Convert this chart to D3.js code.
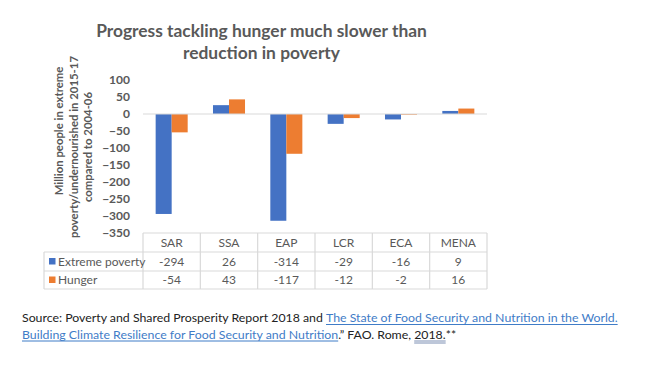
<!DOCTYPE html>
<html><head><meta charset="utf-8">
<script src="https://cdn.jsdelivr.net/npm/d3@7"></script>
<style>body{margin:0;background:#fff}svg{display:block}text{white-space:pre}</style>
</head><body><svg id="c" width="650" height="368"></svg>
<script>
const categories = ["SAR", "SSA", "EAP", "LCR", "ECA", "MENA"];
const seriesNames = ["Extreme poverty", "Hunger"];
const extremePoverty = [-294, 26, -314, -29, -16, 9];
const hunger = [-54, 43, -117, -12, -2, 16];
const yTicks = [100, 50, 0, -50, -100, -150, -200, -250, -300, -350];
const titleLines = ["Progress tackling hunger much slower than", "reduction in poverty"];
const yTitleLines = ["Million people in extreme", "poverty/undernourished in 2015-17", "compared to 2004-06"];
const sourceLine1 = [
  {t: "Source: Poverty and Shared Prosperity Report 2018 and ", link: false},
  {t: "The State of Food Security and Nutrition in the World.", link: true}
];
const sourceLine2 = [
  {t: "Building Climate Resilience for Food Security and Nutrition", link: true},
  {t: ".\u201D FAO. Rome, ", link: false},
  {t: "2018.", link: false, dotted: true},
  {t: "**", link: false}
];

const colors = ["#4472C4", "#ED7D31"];
const gray = "#595959";
const border = "#d9d9d9";
const FONT = "Lato, 'Open Sans', sans-serif";

const svg = d3.select("#c");
const values = [extremePoverty, hunger];

const plotLeft = 143, plotRight = 487, plotTop = 80, plotBottom = 233;
const x0 = d3.scaleBand().domain(categories).range([plotLeft, plotRight]).padding(0);
const x1 = d3.scaleBand().domain(seriesNames).range([0, x0.bandwidth()]).paddingInner(0).paddingOuter(0.79);
const y = d3.scaleLinear().domain([-350, 100]).range([plotBottom, plotTop]);

function fit(sel, target) {
  const w = sel.node().getComputedTextLength();
  const fs = parseFloat(sel.attr("font-size"));
  sel.attr("font-size", (fs * target / w).toFixed(2));
}

// Title
const tl1 = svg.append("text").attr("x", 261.5).attr("y", 37).attr("text-anchor", "middle")
  .attr("font-family", FONT).attr("font-weight", "bold").attr("font-size", 18).attr("fill", gray).text(titleLines[0]);
fit(tl1, 331);
svg.append("text").attr("x", 261.5).attr("y", 59).attr("text-anchor", "middle")
  .attr("font-family", FONT).attr("font-weight", "bold").attr("font-size", tl1.attr("font-size")).attr("fill", gray).text(titleLines[1]);

// Y axis title
const yt2 = svg.append("text").attr("transform", "translate(77.5,147) rotate(-90)").attr("text-anchor", "middle")
  .attr("font-family", FONT).attr("font-weight", "bold").attr("font-size", 12).attr("fill", gray).text(yTitleLines[1]);
fit(yt2, 182);
const yfs = yt2.attr("font-size");
svg.append("text").attr("transform", "translate(63,131) rotate(-90)").attr("text-anchor", "middle")
  .attr("font-family", FONT).attr("font-weight", "bold").attr("font-size", yfs).attr("fill", gray).text(yTitleLines[0]);
svg.append("text").attr("transform", "translate(92,147) rotate(-90)").attr("text-anchor", "middle")
  .attr("font-family", FONT).attr("font-weight", "bold").attr("font-size", yfs).attr("fill", gray).text(yTitleLines[2]);

// Y axis
const yAxis = svg.append("g").attr("transform", `translate(${plotLeft},0)`)
  .call(d3.axisLeft(y).tickValues(yTicks).tickSize(0).tickPadding(13));
yAxis.select(".domain").remove();
yAxis.selectAll("text").attr("font-family", FONT).attr("font-weight", "bold").attr("font-size", 12).attr("fill", gray);

// Bars
const groups = svg.append("g").selectAll("g").data(categories).join("g")
  .attr("transform", d => `translate(${x0(d)},0)`);
groups.selectAll("rect").data((d, i) => seriesNames.map((s, k) => ({s, k, v: values[k][i]}))).join("rect")
  .attr("x", d => x1(d.s)).attr("width", x1.bandwidth())
  .attr("y", d => y(Math.max(0, d.v))).attr("height", d => Math.abs(y(d.v) - y(0)))
  .attr("fill", d => colors[d.k]);

// zero line
svg.append("line").attr("x1", plotLeft).attr("x2", plotRight).attr("y1", y(0)).attr("y2", y(0))
  .attr("stroke", border).attr("stroke-width", 1.2);

// Data table
const rowY = [233, 252, 271, 289];
const tableLeft = 44;
const tg = svg.append("g").attr("stroke", border).attr("stroke-width", 1.2);
tg.append("line").attr("x1", plotLeft).attr("x2", plotRight).attr("y1", rowY[0]).attr("y2", rowY[0]);
[1, 2, 3].forEach(r => tg.append("line").attr("x1", tableLeft).attr("x2", plotRight).attr("y1", rowY[r]).attr("y2", rowY[r]));
tg.append("line").attr("x1", tableLeft).attr("x2", tableLeft).attr("y1", rowY[1]).attr("y2", rowY[3]);
categories.forEach(c => tg.append("line").attr("x1", x0(c)).attr("x2", x0(c)).attr("y1", rowY[0]).attr("y2", rowY[3]));
tg.append("line").attr("x1", plotRight).attr("x2", plotRight).attr("y1", rowY[0]).attr("y2", rowY[3]);

const tt = svg.append("g").attr("font-family", FONT).attr("font-size", 12).attr("fill", gray);
categories.forEach((c, i) => {
  const cx = x0(c) + x0.bandwidth() / 2;
  tt.append("text").attr("x", cx).attr("y", 246.5).attr("text-anchor", "middle").text(c);
  tt.append("text").attr("x", cx).attr("y", 265.5).attr("text-anchor", "middle").text(extremePoverty[i]);
  tt.append("text").attr("x", cx).attr("y", 284).attr("text-anchor", "middle").text(hunger[i]);
});
seriesNames.forEach((s, k) => {
  const yy = [265.5, 284][k];
  svg.append("rect").attr("x", 49).attr("y", yy - 7.5).attr("width", 6.5).attr("height", 6.5).attr("fill", colors[k]);
  const t = tt.append("text").attr("x", 58).attr("y", yy).text(s);
  if (k === 0) fit(t, 81);
});

// Source
function drawLine(segs, x, yb, fs) {
  let cx = x;
  segs.forEach(s => {
    const t = svg.append("text").attr("x", cx).attr("y", yb).attr("font-family", FONT).attr("font-size", fs)
      .attr("xml:space", "preserve")
      .attr("fill", s.link ? "#3F7CC7" : "#222").text(s.t);
    const w = t.node().getComputedTextLength();
    if (s.link) {
      svg.append("line").attr("x1", cx).attr("x2", cx + w).attr("y1", yb + 2.5).attr("y2", yb + 2.5)
        .attr("stroke", "#3F7CC7").attr("stroke-width", 1);
    }
    if (s.dotted) {
      svg.append("line").attr("x1", cx).attr("x2", cx + w).attr("y1", yb + 2.5).attr("y2", yb + 2.5)
        .attr("stroke", "#7d8fb3").attr("stroke-width", 1);
      svg.append("line").attr("x1", cx).attr("x2", cx + w).attr("y1", yb + 4.5).attr("y2", yb + 4.5)
        .attr("stroke", "#7d8fb3").attr("stroke-width", 1);
    }
    cx += w;
  });
  return cx - x;
}
const probe = svg.append("text").attr("font-family", FONT).attr("font-size", 14).attr("xml:space", "preserve")
  .text(sourceLine1.map(s => s.t).join(""));
const srcFs = 14 * 596 / probe.node().getComputedTextLength();
probe.remove();
drawLine(sourceLine1, 22, 322, srcFs);
drawLine(sourceLine2, 22, 338.5, srcFs);
</script></body></html>
